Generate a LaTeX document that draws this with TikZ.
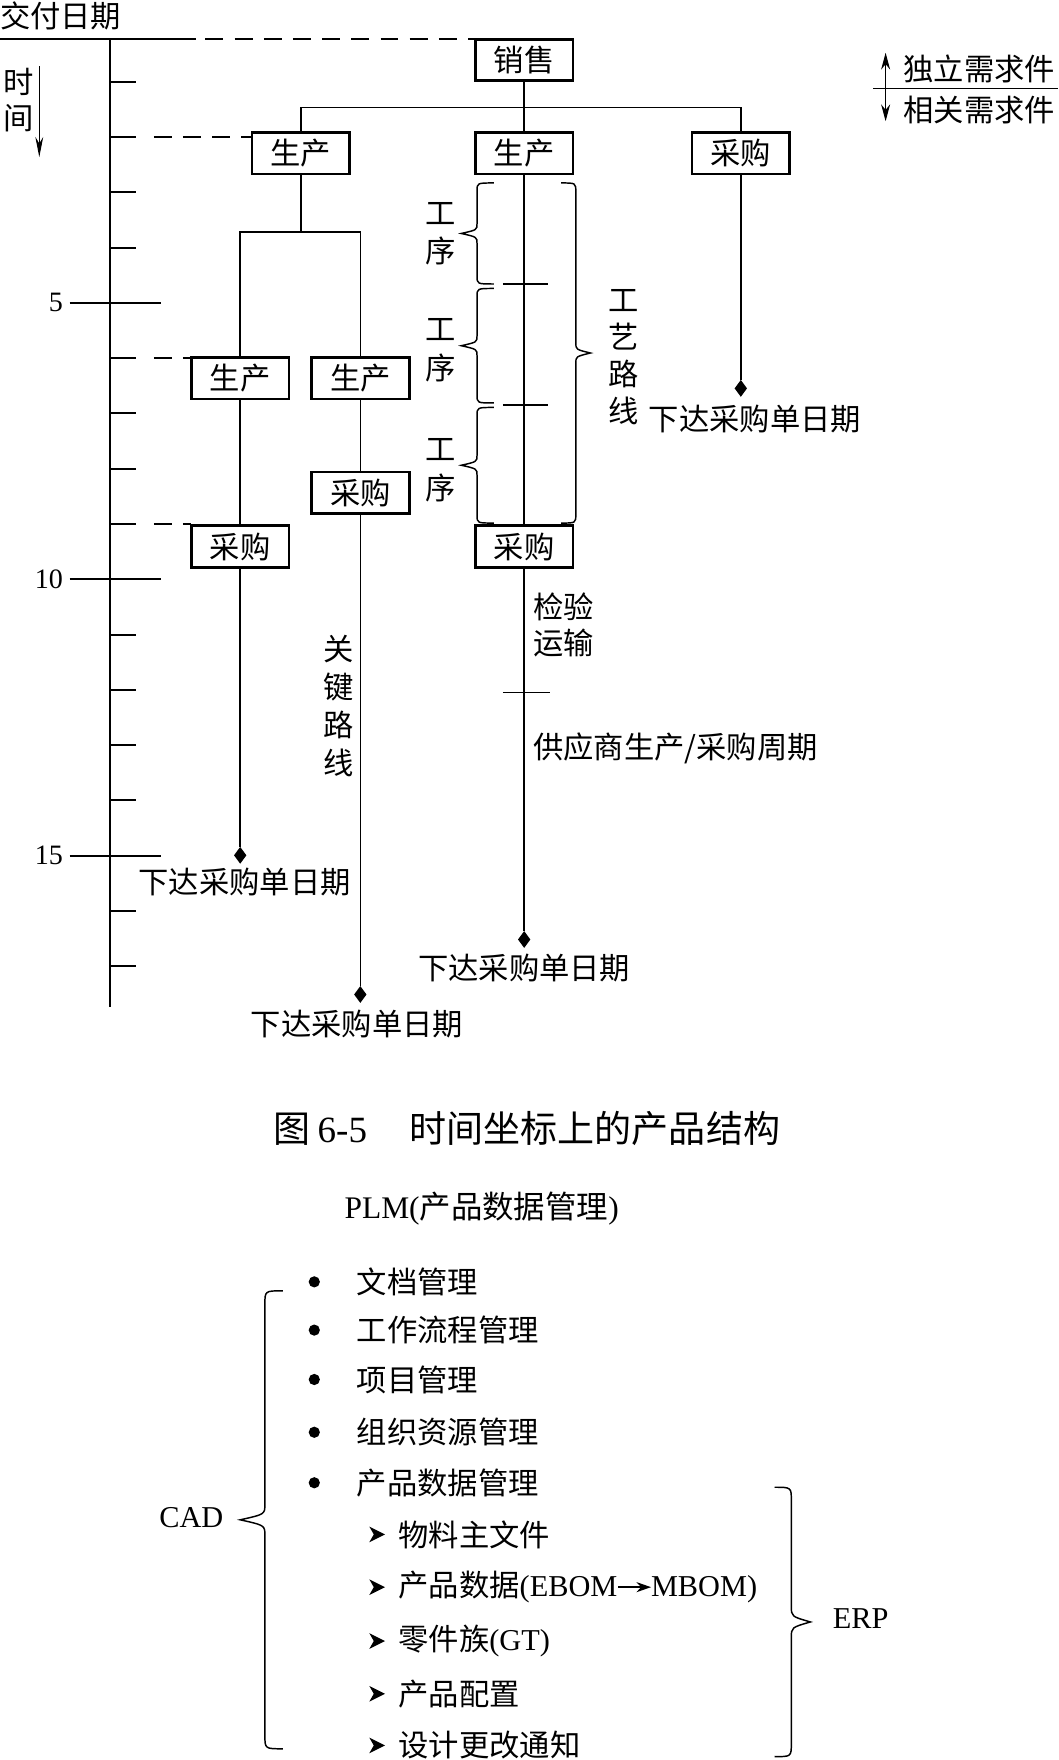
\documentclass[tikz,border=0pt]{standalone}
\usepackage{fontspec}
\setmainfont{Liberation Serif}
\newfontfamily\zh{Noto Sans CJK SC}
\usetikzlibrary{decorations.pathreplacing,arrows.meta,shapes.geometric}
% vertical brace: end x, body x, tip x, top y, bottom y, curl radius, tip half-height
\newcommand{\vbrc}[7]{%
  \pgfmathsetmacro\ym{(#4+#5)/2}%
  \draw[ln, line join=miter] (#1,#4) .. controls (#2,#4) .. (#2,#4+#6) -- (#2,\ym-#7)
    .. controls (#2,\ym-0.35*#7) .. (#3,\ym) .. controls (#2,\ym+0.35*#7) .. (#2,\ym+#7)
    -- (#2,#5-#6) .. controls (#2,#5) .. (#1,#5);%
}
\begin{document}
\begin{tikzpicture}[x=1pt,y=-1pt,
  every node/.style={inner sep=0pt, outer sep=0pt, font=\fontsize{27}{34}\selectfont\zh},
  box/.style={draw, line width=2.6pt, minimum width=87pt, minimum height=37pt},
  ln/.style={line width=1.3pt},
  axisln/.style={line width=1.8pt},
  dashln/.style={line width=1.4pt, dash pattern=on 16pt off 10pt},
  dia/.style={diamond, fill=black, draw=none, minimum width=11pt, minimum height=15pt, inner sep=0pt},
  vtext/.style={align=center},
  lat/.style={font=\fontsize{27}{34}\selectfont\rmfamily},
]
\useasboundingbox (0,0) rectangle (943,1568);

% ---------- time axis ----------
\node[anchor=west] (deliv) at (0,14) {交付日期};
\coordinate (top0) at (0,35);
\coordinate (top1) at (175,35);
\coordinate (top2) at (183,35);
\coordinate (ax0) at (98,35);
\coordinate (ax1) at (98,897);
\draw[axisln] (top0) -- (top1);
\draw[axisln] (ax0) -- (ax1);
\foreach \k in {1,2,3,4,6,7,8,9,11,12,13,14,16,17}{
  \pgfmathsetmacro\yy{23.6+49.25*\k}
  \coordinate (tk\k) at (121,\yy);
  \draw[axisln] (98,\yy) -- (tk\k);
}
\foreach \k in {5,10,15}{
  \pgfmathsetmacro\yy{23.6+49.25*\k}
  \coordinate (tk\k) at (143,\yy);
  \draw[axisln] (62,\yy) -- (tk\k);
  \node[anchor=east, font=\fontsize{25}{30}\selectfont\rmfamily] (num\k) at (56,\yy) {\k};
}

% time label
\node (shi) at (17,73) {时};
\node (jian) at (17,105) {间};
\coordinate (ta0) at (35,59);
\coordinate (ta1) at (35,140);
\draw[ln, -{Stealth[length=18pt,width=7pt]}] (ta0) -- (ta1);

% ---------- boxes ----------
\node[box] (sale) at (467,53.5) {销售};
\node[box] (p1) at (268,136.5) {生产};
\node[box] (p2) at (467,136.5) {生产};
\node[box] (b1) at (660,136.5) {采购};
\node[box] (p3) at (214,337) {生产};
\node[box] (p4) at (321,337) {生产};
\node[box] (b2) at (321,439) {采购};
\node[box] (b3) at (214,487) {采购};
\node[box] (b4) at (467,487) {采购};

\node[dia] (d1) at (660,346) {};
\node[dia] (d3) at (214,762) {};
\node[dia] (d4) at (467,837) {};
\node[dia] (d2) at (321,886) {};

% dashed guides
\draw[dashln] (top2) -- (sale.north west);
\draw[dashln] ([xshift=16pt]tk2) -- (p1.west |- tk2);
\draw[dashln] ([xshift=16pt]tk6) -- (p3.west |- tk6);
\draw[dashln] ([xshift=16pt]tk9) -- (p3.west |- tk9);

% connectors
\draw[ln] (sale.south) -- (p2.north);
\draw[ln] (p1.north) -- ++(0,-22) -| (b1.north);
\draw[ln] (p1.south) -- ++(0,51.5) coordinate (br);
\draw[ln] (p3.north) |- (br) -| (p4.north);
\draw[ln] (p3.south) -- (b3.north);
\draw[ln] (b3.south) -- (d3);
\draw[ln] (p4.south) -- (b2.north);
\draw[ln] (b2.south) -- (d2);
\draw[ln] (p2.south) -- (b4.north);
\draw[ln] (b4.south) -- (d4);
\draw[ln] (b1.south) -- (d1);

% labels for release dates
\node[anchor=west] (l1) at (578,373) {下达采购单日期};
\node (l3) at (218,786) {下达采购单日期};
\node (l4) at (467,862) {下达采购单日期};
\node (l2) at (318,912) {下达采购单日期};

\node[vtext] (crit) at (302,629) {关\\键\\路\\线};

% operations braces
\vbrc{440}{425}{411}{163}{253}{7}{9}
\vbrc{440}{425}{411}{257}{359}{7}{9}
\vbrc{440}{425}{411}{363}{466}{7}{9}
\vbrc{500}{513}{526}{163}{466}{8}{9}
\draw[ln] (448,253) -- (488,253);
\draw[ln] (448,361) -- (488,361);
\draw[ln] (448,617) -- (490,617);
\node[vtext] (op1) at (393,208) {工\\序};
\node[vtext] (op2) at (393,312) {工\\序};
\node[vtext] (op3) at (393,419) {工\\序};
\node[vtext, font=\fontsize{27}{33}\selectfont\zh] (route) at (556,318) {工\\艺\\路\\线};

\node[anchor=west, align=left, font=\fontsize{27}{32}\selectfont\zh] (insp) at (475,557) {检验\\运输};
\node[anchor=west] (supp) at (475,667) {供应商生产/采购周期};

% legend
\coordinate (lg0) at (778,79);
\coordinate (lg1) at (943,79);
\draw[ln] (lg0) -- (lg1);
\coordinate (la0) at (789,47);
\coordinate (la1) at (789,108);
\draw[ln, {Stealth[length=15pt,width=8pt]}-{Stealth[length=15pt,width=8pt]}] (la0) -- (la1);
\node[anchor=west] (indep) at (805,61) {独立需求件};
\node[anchor=west] (dep) at (805,98) {相关需求件};

% caption
\node[anchor=west, font=\fontsize{33}{38}\selectfont\zh] (cap) at (244,1005)
  {图\hspace{6pt}{\rmfamily 6-5}\hspace{38pt}时间坐标上的产品结构};

% ---------- PLM ----------
\node[anchor=west, font=\fontsize{28}{34}\selectfont\zh] (plm) at (307,1077) {{\rmfamily PLM(}产品数据管理{\rmfamily )}};

\foreach \yy/\txt [count=\i] in {1142/文档管理,1185/工作流程管理,1229/项目管理,1276/组织资源管理,1321/产品数据管理}{
  \fill (280,\yy) circle (5);
  \node[anchor=west] (it\i) at (318,\yy) {\txt};
}
\foreach \yy in {1367,1414,1462,1509,1555}{
  \fill (329,\yy-7) -- (343,\yy) -- (329,\yy+7) -- (333,\yy) -- cycle;
}
\node[anchor=west] (s1) at (355,1367) {物料主文件};
\node[anchor=west] (s2a) at (355,1414) {产品数据{\rmfamily (EBOM}};
\node[anchor=base west, lat] (s2b) at ([xshift=30pt]s2a.base east) {MBOM)};
\draw[ln, shorten <=1pt, -{Stealth[length=13pt,width=9pt]}] (s2a.east) -- (s2a.east -| s2b.west);
\node[anchor=west] (s3) at (355,1462) {零件族{\rmfamily (GT)}};
\node[anchor=west] (s4) at (355,1509) {产品配置};
\node[anchor=west] (s5) at (355,1555) {设计更改通知};

\vbrc{252}{236}{214}{1150}{1558}{12}{14}
\node[anchor=east, lat] (cad) at (199,1352) {CAD};
\vbrc{690}{705}{722}{1325}{1565}{12}{14}
\node[anchor=west, lat] (erp) at (742,1442) {ERP};

\end{tikzpicture}
\end{document}
